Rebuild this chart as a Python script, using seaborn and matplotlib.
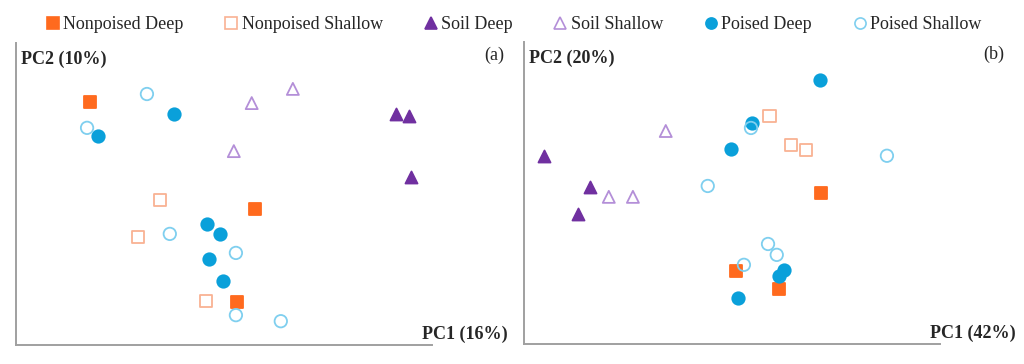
import numpy as np
import pandas as pd
import matplotlib
matplotlib.use("Agg")
import matplotlib.pyplot as plt
from matplotlib.lines import Line2D
import seaborn as sns

sns.set_style("white")
plt.rcParams['font.family'] = ['Liberation Serif', 'DejaVu Serif']

# groups shown in the legend (order as in the figure)
groups = ['Nonpoised Deep', 'Nonpoised Shallow', 'Soil Deep',
          'Soil Shallow', 'Poised Deep', 'Poised Shallow']

# PCA scores, scaled to 0-100 of the axis range
a_pc1 = {
    'Nonpoised Deep':    [17.8, 57.5, 53.1],
    'Nonpoised Shallow': [34.6, 29.3, 45.7],
    'Soil Deep':         [91.3, 94.5, 95.0],
    'Soil Shallow':      [66.6, 56.7, 52.4],
    'Poised Deep':       [38.0, 19.7, 45.9, 49.0, 46.4, 49.8],
    'Poised Shallow':    [31.5, 17.1, 37.0, 52.9, 52.9, 63.7],
}
a_pc2 = {
    'Nonpoised Deep':    [80.5, 45.0, 14.2],
    'Nonpoised Shallow': [48.0, 35.8, 14.6],
    'Soil Deep':         [76.5, 75.8, 55.6],
    'Soil Shallow':      [84.8, 80.1, 64.2],
    'Poised Deep':       [76.5, 69.2, 40.1, 36.8, 28.5, 21.2],
    'Poised Shallow':    [83.1, 71.9, 36.8, 30.5, 9.9, 7.9],
}

# PCA scores
b_pc1 = {
    'Nonpoised Deep':    [71.4, 51.0, 61.3],
    'Nonpoised Shallow': [59.1, 64.2, 67.8],
    'Soil Deep':         [4.8, 15.9, 13.0],
    'Soil Shallow':      [34.1, 20.4, 26.2],
    'Poised Deep':       [71.2, 54.8, 49.8, 62.5, 61.3, 51.4],
    'Poised Shallow':    [54.6, 44.2, 87.3, 58.7, 60.8, 52.9],
}
b_pc2 = {
    'Nonpoised Deep':    [50.0, 24.2, 18.2],
    'Nonpoised Shallow': [75.5, 65.9, 64.2],
    'Soil Deep':         [62.3, 52.0, 43.0],
    'Soil Shallow':      [70.5, 48.7, 48.7],
    'Poised Deep':       [87.4, 73.2, 64.6, 24.5, 22.5, 15.2],
    'Poised Shallow':    [71.5, 52.3, 62.3, 33.1, 29.5, 26.2],
}

# marker style per group: (marker, face, edge)
styles = {
    'Nonpoised Deep':    ('s', '#FF6A1E', '#FF6A1E'),
    'Nonpoised Shallow': ('s', 'none', '#F9B293'),
    'Soil Deep':         ('^', '#7030A0', '#7030A0'),
    'Soil Shallow':      ('^', 'none', '#B48FD8'),
    'Poised Deep':       ('o', '#0AA0DA', '#0AA0DA'),
    'Poised Shallow':    ('o', 'none', '#7FCFEF'),
}


def to_frame(pc1, pc2):
    rows = []
    for g in groups:
        for x, y in zip(pc1[g], pc2[g]):
            rows.append({'PC1': x, 'PC2': y, 'Group': g})
    return pd.DataFrame(rows)


fig = plt.figure(figsize=(10.24, 3.64), dpi=100)
ax_a = fig.add_axes([0.0156, 0.052, 0.406, 0.830])
ax_b = fig.add_axes([0.5117, 0.055, 0.406, 0.830])

panels = [
    (ax_a, to_frame(a_pc1, a_pc2), 'PC1 (16%)', 'PC2 (10%)', '(a)', 1.175),
    (ax_b, to_frame(b_pc1, b_pc2), 'PC1 (42%)', 'PC2 (20%)', '(b)', 1.156),
]

for ax, df, xl, yl, tag, tagx in panels:
    for g in groups:
        m, fc, ec = styles[g]
        sub = df[df['Group'] == g]
        sns.scatterplot(data=sub, x='PC1', y='PC2', ax=ax, marker=m,
                        s=80 if m != '^' else 75, facecolor=fc, edgecolor=ec,
                        linewidth=1.3, legend=False, zorder=3)
    ax.set_xlim(0, 100)
    ax.set_ylim(0, 100)
    ax.set_xticks([])
    ax.set_yticks([])
    ax.set_xlabel('')
    ax.set_ylabel('')
    for side in ['top', 'right']:
        ax.spines[side].set_visible(False)
    for side in ['left', 'bottom']:
        ax.spines[side].set_color('#A0A0A0')
        ax.spines[side].set_linewidth(1.4)
    ax.text(0.012, 0.945, yl, transform=ax.transAxes, fontsize=13,
            fontweight='bold', ha='left', va='center')
    ax.text(1.183, 0.035, xl, transform=ax.transAxes, fontsize=13,
            fontweight='bold', ha='right', va='center', clip_on=False)
    ax.text(tagx, 0.96, tag, transform=ax.transAxes, fontsize=13,
            ha='right', va='center', clip_on=False)

handles = []
for g in groups:
    m, fc, ec = styles[g]
    handles.append(Line2D([], [], linestyle='none', marker=m, markersize=8,
                          markerfacecolor=fc, markeredgecolor=ec,
                          markeredgewidth=1.2, label=g))
fig.legend(handles=handles, loc='center', bbox_to_anchor=(0.501, 0.933),
           ncol=6, frameon=False, fontsize=13, handletextpad=0.12,
           columnspacing=2.2, handlelength=0.9)

fig.savefig('out.png', dpi=100)
